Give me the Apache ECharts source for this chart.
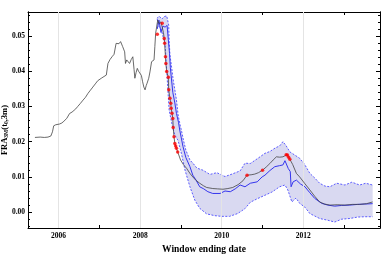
<!DOCTYPE html>
<html><head><meta charset="utf-8">
<script src="https://cdn.jsdelivr.net/npm/echarts@6/dist/echarts.min.js"></script>
<style>html,body{margin:0;padding:0;background:#fff}#c{width:382px;height:254px}</style>
</head><body><div id="c"></div>
<script>
// Observed forward rate (black line): [year, value]
const observed = [
[2005.42,0.0212],[2005.55,0.0213],[2005.65,0.0212],[2005.74,0.0213],[2005.81,0.0216],[2005.85,0.0228],[2005.88,0.0245],[2005.93,0.0248],[2006.02,0.0250],
[2006.08,0.0253],[2006.13,0.0258],[2006.20,0.0266],[2006.27,0.0280],[2006.30,0.0275],[2006.33,0.0284],[2006.37,0.0288],[2006.42,0.0293],[2006.47,0.0300],
[2006.53,0.0308],[2006.60,0.0318],[2006.66,0.0326],[2006.72,0.0337],[2006.78,0.0346],[2006.84,0.0355],[2006.90,0.0364],[2006.96,0.0373],[2007.06,0.0381],
[2007.17,0.0389],[2007.21,0.0422],[2007.26,0.0433],[2007.31,0.0441],[2007.36,0.0448],[2007.41,0.0479],[2007.45,0.0474],[2007.48,0.0478],[2007.52,0.0484],
[2007.57,0.0470],[2007.62,0.0455],[2007.64,0.0422],[2007.67,0.0432],[2007.70,0.0437],[2007.74,0.0422],[2007.78,0.0433],[2007.82,0.0441],[2007.85,0.0405],
[2007.87,0.0380],[2007.90,0.0396],[2007.93,0.0408],[2007.96,0.0400],[2007.99,0.0403],[2008.03,0.0388],[2008.06,0.0370],[2008.09,0.0355],[2008.12,0.0347],
[2008.15,0.0360],[2008.17,0.0366],[2008.21,0.0380],[2008.24,0.0398],[2008.28,0.0427],[2008.31,0.0430],[2008.34,0.0432],[2008.36,0.0470],[2008.38,0.0508],
[2008.42,0.0505],[2008.43,0.0545],[2008.46,0.0535],[2008.48,0.0530],[2008.51,0.0540],[2008.54,0.0536],[2008.57,0.0510],[2008.59,0.0493],[2008.60,0.0479],
[2008.62,0.0441],[2008.63,0.0422],[2008.65,0.0399],[2008.69,0.0383],[2008.70,0.0347],[2008.73,0.0323],[2008.75,0.0309],[2008.76,0.0295],[2008.78,0.0281],
[2008.80,0.0266],[2008.81,0.0240],[2008.83,0.0214],[2008.85,0.0195],[2008.87,0.0188],[2008.89,0.0181],[2008.92,0.0171],[2008.99,0.0148],[2009.06,0.0135],
[2009.14,0.0124],[2009.22,0.0110],[2009.29,0.0100],[2009.37,0.0090],[2009.46,0.0082],[2009.55,0.0075],[2009.63,0.0070],[2009.78,0.0067],[2009.90,0.0066],
[2010.03,0.0065],[2010.15,0.0067],[2010.27,0.0070],[2010.40,0.0078],[2010.52,0.0089],[2010.62,0.0105],[2010.72,0.0106],[2010.81,0.0108],[2010.90,0.0112],
[2011.00,0.0119],[2011.09,0.0128],[2011.18,0.0138],[2011.26,0.0148],[2011.34,0.0157],[2011.42,0.0156],[2011.50,0.0157],[2011.55,0.0160],[2011.60,0.0164],
[2011.63,0.0158],[2011.67,0.0150],[2011.74,0.0135],[2011.83,0.0110],[2011.91,0.0100],[2012.03,0.0082],[2012.16,0.0063],[2012.28,0.0045],[2012.40,0.0029],
[2012.52,0.0023],[2012.65,0.0020],[2012.83,0.0021],[2013.02,0.0020],[2013.20,0.0022],[2013.38,0.0022],[2013.55,0.0024],[2013.70,0.0029]
];
// Model mean (blue solid line)
const modelMean = [
[2008.42,0.0520],[2008.46,0.0545],[2008.51,0.0510],[2008.56,0.0528],[2008.61,0.0525],[2008.66,0.0530],[2008.69,0.0490],[2008.72,0.0450],[2008.74,0.0410],
[2008.77,0.0375],[2008.80,0.0340],[2008.85,0.0310],[2008.89,0.0280],[2008.94,0.0255],[2008.97,0.0233],[2009.05,0.0186],[2009.12,0.0155],[2009.22,0.0129],
[2009.29,0.0105],[2009.37,0.0091],[2009.46,0.0072],[2009.56,0.0066],[2009.66,0.0058],[2009.78,0.0053],[2009.96,0.0053],[2010.08,0.0060],[2010.21,0.0058],
[2010.33,0.0066],[2010.45,0.0077],[2010.57,0.0072],[2010.70,0.0082],[2010.87,0.0086],[2010.99,0.0100],[2011.06,0.0105],[2011.18,0.0118],[2011.30,0.0129],
[2011.42,0.0132],[2011.50,0.0134],[2011.55,0.0146],[2011.63,0.0124],[2011.68,0.0115],[2011.70,0.0072],[2011.75,0.0086],[2011.83,0.0091],[2011.93,0.0080],
[2012.04,0.0072],[2012.16,0.0055],[2012.28,0.0039],[2012.45,0.0025],[2012.60,0.0020],[2012.77,0.0017],[2012.94,0.0019],[2013.14,0.0020],[2013.33,0.0022],
[2013.51,0.0023],[2013.70,0.0024]
];
// Upper confidence bound (blue dashed)
const upperBand = [
[2008.41,0.0550],[2008.47,0.0556],[2008.53,0.0548],[2008.59,0.0555],[2008.65,0.0557],[2008.70,0.0531],[2008.71,0.0489],[2008.73,0.0446],[2008.77,0.0412],
[2008.81,0.0375],[2008.85,0.0347],[2008.89,0.0318],[2008.93,0.0276],[2008.98,0.0247],[2009.01,0.0233],[2009.06,0.0205],[2009.12,0.0176],[2009.22,0.0148],
[2009.30,0.0138],[2009.39,0.0125],[2009.54,0.0119],[2009.71,0.0107],[2009.88,0.0112],[2010.08,0.0101],[2010.25,0.0108],[2010.45,0.0117],[2010.57,0.0139],
[2010.70,0.0138],[2010.89,0.0153],[2011.06,0.0167],[2011.18,0.0172],[2011.31,0.0182],[2011.42,0.0188],[2011.50,0.0200],[2011.57,0.0190],[2011.67,0.0171],
[2011.79,0.0162],[2011.91,0.0153],[2012.04,0.0134],[2012.16,0.0110],[2012.28,0.0097],[2012.40,0.0082],[2012.53,0.0074],[2012.65,0.0072],[2012.82,0.0082],
[2013.02,0.0077],[2013.19,0.0085],[2013.38,0.0077],[2013.53,0.0082],[2013.70,0.0077]
];
// Lower confidence bound (blue dashed)
const lowerBand = [
[2008.42,0.0548],[2008.44,0.0531],[2008.52,0.0517],[2008.56,0.0498],[2008.61,0.0479],[2008.63,0.0441],[2008.65,0.0403],[2008.67,0.0366],[2008.69,0.0328],
[2008.71,0.0290],[2008.76,0.0261],[2008.80,0.0239],[2008.85,0.0219],[2008.93,0.0203],[2009.01,0.0167],[2009.10,0.0119],[2009.22,0.0072],[2009.34,0.0034],
[2009.46,0.0011],[2009.63,-0.0005],[2009.83,-0.0010],[2010.00,-0.0012],[2010.19,-0.0012],[2010.39,-0.0004],[2010.57,0.0010],[2010.70,0.0028],[2010.87,0.0038],
[2011.06,0.0048],[2011.23,0.0057],[2011.42,0.0072],[2011.55,0.0077],[2011.62,0.0063],[2011.72,0.0029],[2011.82,0.0040],[2011.91,0.0025],[2012.04,0.0014],
[2012.16,-0.0004],[2012.28,-0.0011],[2012.40,-0.0018],[2012.60,-0.0023],[2012.77,-0.0028],[2012.94,-0.0020],[2013.14,-0.0018],[2013.33,-0.0014],
[2013.51,-0.0013],[2013.70,-0.0013]
];
// Observations outside the band (red dots)
const breaches = [
[2008.42,0.0505],[2008.54,0.0536],[2008.59,0.0493],[2008.60,0.0479],[2008.62,0.0441],[2008.63,0.0422],[2008.65,0.0399],[2008.69,0.0383],[2008.70,0.0347],
[2008.73,0.0323],[2008.75,0.0309],[2008.76,0.0295],[2008.78,0.0281],[2008.80,0.0266],[2008.81,0.0240],[2008.83,0.0214],[2008.85,0.0195],[2008.87,0.0188],
[2008.89,0.0181],[2008.92,0.0171],[2010.62,0.0105],[2011.00,0.0119],[2011.58,0.0163],[2011.61,0.0162],[2011.64,0.0156],[2011.67,0.0150]
];
const xLabelYears = [2006, 2008, 2010, 2012];
const xTickYears = [2006, 2007, 2008, 2009, 2010, 2011, 2012, 2013];
const yLabelValues = [0, 0.01, 0.02, 0.03, 0.04, 0.05];
const yMinorValues = [-0.004,-0.002,0.002,0.004,0.006,0.008,0.012,0.014,0.016,0.018,0.022,0.024,0.026,0.028,0.032,0.034,0.036,0.038,0.042,0.044,0.046,0.048,0.052,0.054,0.056];

const X_MIN = 2005.25, X_MAX = 2013.88, Y_MIN = -0.0045, Y_MAX = 0.0568;
const serif = 'Liberation Serif';
const chart = echarts.init(document.getElementById('c'), null, {renderer: 'canvas'});
function xAx(pos, labels) {
  return {type: 'value', position: pos, min: X_MIN, max: X_MAX,
    axisLine: {show: true, onZero: false, lineStyle: {color: '#000', width: 1}},
    axisTick: {show: true, inside: true, length: 3, customValues: xTickYears, lineStyle: {color: '#000'}},
    axisLabel: {show: labels, customValues: xLabelYears, margin: 4, fontFamily: serif, fontWeight: 'bold', fontSize: 7.5, color: '#000',
      formatter: v => String(Math.round(v))},
    splitLine: {show: false}};
}
function yAx(pos, ticks, len, labels) {
  return {type: 'value', position: pos, min: Y_MIN, max: Y_MAX,
    axisLine: {show: true, onZero: false, lineStyle: {color: '#000', width: 1}},
    axisTick: {show: true, inside: true, length: len, customValues: ticks, lineStyle: {color: '#000'}},
    axisLabel: {show: labels, customValues: yLabelValues, margin: 3, fontFamily: serif, fontWeight: 'bold', fontSize: 7.5, color: '#000',
      formatter: v => v.toFixed(2)},
    splitLine: {show: false}};
}
const xa0 = xAx('bottom', true);
xa0.name = 'Window ending date'; xa0.nameLocation = 'middle'; xa0.nameGap = 14;
xa0.nameTextStyle = {fontFamily: serif, fontWeight: 'bold', fontSize: 9.5, color: '#000'};
const ya0 = yAx('left', yLabelValues, 4, true);

chart.setOption({
  animation: false,
  backgroundColor: '#fff',
  grid: {left: 28, right: 2, top: 12, bottom: 26, containLabel: false, outerBoundsMode: 'none'},
  xAxis: [xa0, xAx('top', false)],
  yAxis: [ya0, yAx('left', yMinorValues, 2, false), yAx('right', yLabelValues, 4, false), yAx('right', yMinorValues, 2, false)],
  graphic: [{
    type: 'text', left: 0, top: 105, rotation: Math.PI / 2, silent: true,
    style: {
      text: 'FRA{s|3M}(t{s|0},3m)', x: 0, y: 0,
      font: 'bold 8.5px "Liberation Serif"', fill: '#000',
      rich: {s: {font: 'bold 5.5px "Liberation Serif"', verticalAlign: 'bottom', padding: [4, 0, 0, 0]}}
    }
  }],
  series: [
    {type: 'line', data: [], xAxisIndex: 0, yAxisIndex: 0, z: 1, silent: true,
      markLine: {silent: true, symbol: 'none', label: {show: false},
        lineStyle: {color: '#e4e4e4', width: 1, type: 'solid'},
        data: xLabelYears.map(y => ({xAxis: y}))}},
    {type: 'custom', z: 2, silent: true, clip: true, data: [[2009, 0.02]], encode: {x: 0, y: 1},
      renderItem: function (params, api) {
        const pts = upperBand.map(p => api.coord(p)).concat(lowerBand.slice().reverse().map(p => api.coord(p)));
        return {type: 'polygon', shape: {points: pts}, style: {fill: 'rgba(150,150,215,0.36)', stroke: null}};
      }},
    {type: 'line', data: upperBand, z: 3, showSymbol: false, silent: true,
      lineStyle: {color: '#4a4aff', width: 0.9, type: [2, 1.5]}},
    {type: 'line', data: lowerBand, z: 3, showSymbol: false, silent: true,
      lineStyle: {color: '#4a4aff', width: 0.9, type: [2, 1.5]}},
    {type: 'line', data: modelMean, z: 4, showSymbol: false, silent: true,
      lineStyle: {color: '#3535ee', width: 1}},
    {type: 'line', data: observed, z: 5, showSymbol: false, silent: true,
      lineStyle: {color: '#444', width: 0.8}},
    {type: 'scatter', data: breaches, z: 6, symbolSize: 3.5, silent: true,
      itemStyle: {color: '#ff0000'}}
  ]
});
</script></body></html>
